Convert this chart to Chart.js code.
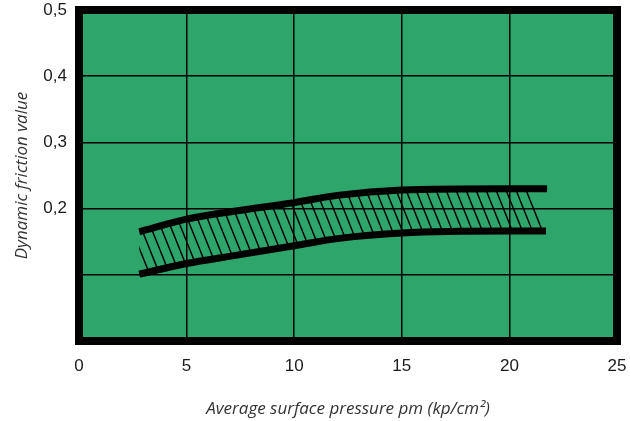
<!DOCTYPE html>
<html>
<head>
<meta charset="utf-8">
<script src="https://cdn.jsdelivr.net/npm/chart.js@4/dist/chart.umd.min.js"></script>
<style>
  html, body { margin: 0; padding: 0; background: #fff; }
  #wrap { width: 630px; height: 421px; }
</style>
</head>
<body>
<div id="wrap"><canvas id="chart" width="630" height="421"></canvas></div>
<script>
// upper and lower bounds of the friction band
const upperX = [2.8, 5.0, 7.2, 10.0, 12.0, 15.0, 20.0, 21.75];
const upperY = [0.165, 0.184, 0.196, 0.209, 0.220, 0.228, 0.230, 0.230];
const lowerX = [2.8, 5.0, 7.2, 10.0, 12.1, 15.0, 20.0, 21.7];
const lowerY = [0.101, 0.117, 0.129, 0.144, 0.155, 0.163, 0.166, 0.166];

// hatched area outline (top edge left->right, bottom edge right->left)
const hatchX = [2.8, 5.0, 7.2, 10.0, 12.0, 15.0, 20.0, 20.85, 21.7, 20.0, 15.0, 12.1, 10.0, 7.2, 5.0, 2.8];
const hatchY = [0.165, 0.184, 0.196, 0.209, 0.220, 0.228, 0.230, 0.230, 0.166, 0.166, 0.163, 0.155, 0.144, 0.129, 0.117, 0.101];

const xTicks = [0, 5, 10, 15, 20, 25];
const yTickLabels = { '0.2': '0,2', '0.3': '0,3', '0.4': '0,4', '0.5': '0,5' };

const GREEN = '#2ea56b';

const toPoints = (xs, ys) => xs.map((x, i) => ({ x: x, y: ys[i] }));

// diagonal hatch pattern
function makeHatch() {
  const w = 10, h = 25;
  const c = document.createElement('canvas');
  c.width = w; c.height = h;
  const g = c.getContext('2d');
  g.strokeStyle = '#000';
  g.lineWidth = 1.4;
  for (let k = -1; k <= 1; k++) {
    g.beginPath();
    g.moveTo(k * w, 0);
    g.lineTo(k * w + w, h);
    g.stroke();
  }
  return g.createPattern(c, 'repeat');
}

const framePlugin = {
  id: 'frame',
  beforeDraw(chart) {
    const { ctx, chartArea: a } = chart;
    ctx.save();
    ctx.fillStyle = GREEN;
    ctx.fillRect(a.left, a.top, a.right - a.left, a.bottom - a.top);
    ctx.restore();
  },
  afterDatasetsDraw(chart) {
    const { ctx, chartArea: a } = chart;
    ctx.save();
    ctx.strokeStyle = '#000';
    ctx.lineWidth = 8;
    ctx.strokeRect(a.left, a.top, a.right - a.left, a.bottom - a.top);
    ctx.restore();
  }
};

// keep the plot box where the layout padding puts it
function noEdgePadding(axis) {
  axis.paddingTop = 0;
  axis.paddingBottom = 0;
  axis.paddingLeft = 0;
  axis.paddingRight = 0;
}

const ctx = document.getElementById('chart');

new Chart(ctx, {
  type: 'scatter',
  data: {
    datasets: [
      {
        label: 'upper',
        data: toPoints(upperX, upperY),
        showLine: true,
        borderColor: '#000',
        borderWidth: 7,
        borderCapStyle: 'butt',
        cubicInterpolationMode: 'monotone',
        pointRadius: 0,
        fill: false
      },
      {
        label: 'lower',
        data: toPoints(lowerX, lowerY),
        showLine: true,
        borderColor: '#000',
        borderWidth: 7,
        borderCapStyle: 'butt',
        cubicInterpolationMode: 'monotone',
        pointRadius: 0,
        fill: false
      },
      {
        label: 'band',
        data: toPoints(hatchX, hatchY),
        showLine: true,
        borderWidth: 0,
        borderColor: 'rgba(0,0,0,0)',
        backgroundColor: makeHatch(),
        tension: 0,
        pointRadius: 0,
        fill: 'shape'
      }
    ]
  },
  options: {
    responsive: false,
    animation: false,
    layout: { padding: { top: 10, right: 13, left: 0, bottom: 0 } },
    plugins: {
      legend: { display: false },
      tooltip: { enabled: false }
    },
    scales: {
      x: {
        type: 'linear',
        min: 0,
        max: 25,
        afterBuildTicks: (axis) => { axis.ticks = xTicks.map(v => ({ value: v })); },
        afterFit: (axis) => { axis.height = 80; noEdgePadding(axis); },
        ticks: {
          padding: 15,
          color: '#1a1a1a',
          font: { family: 'Liberation Sans', size: 17 },
          callback: (v) => String(v)
        },
        grid: { color: '#000', lineWidth: 1.5, drawTicks: false },
        border: { display: false },
        title: {
          display: true,
          text: 'Average surface pressure pm (kp/cm²)',
          color: '#333',
          font: { family: 'Open Sans', size: 17, style: 'italic' },
          padding: { top: 0, bottom: 2 }
        }
      },
      y: {
        min: 0,
        max: 0.5,
        ticks: {
          stepSize: 0.1,
          padding: 12,
          color: '#1a1a1a',
          font: { family: 'Liberation Sans', size: 17 },
          callback: (v) => yTickLabels[v.toFixed(1)] || ''
        },
        afterFit: (axis) => { axis.width = 79; noEdgePadding(axis); },
        grid: { color: '#000', lineWidth: 1.5, drawTicks: false },
        border: { display: false },
        title: {
          display: true,
          text: 'Dynamic friction value',
          color: '#333',
          font: { family: 'Open Sans', size: 17, style: 'italic' },
          padding: { top: 12, bottom: 0 }
        }
      }
    }
  },
  plugins: [framePlugin]
});
</script>
</body>
</html>
